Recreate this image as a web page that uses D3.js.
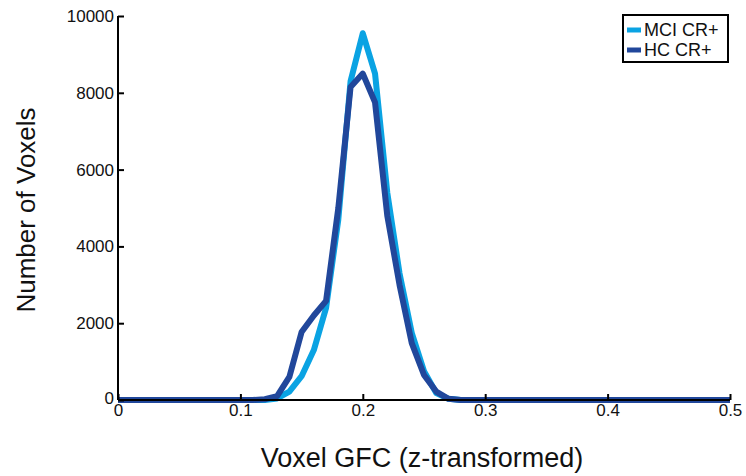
<!DOCTYPE html>
<html>
<head>
<meta charset="utf-8">
<script src="https://cdn.jsdelivr.net/npm/d3@7"></script>
<style>
html,body{margin:0;padding:0;background:#fff;}
svg text{font-family:"Liberation Sans",Arial,Helvetica,sans-serif;}
</style>
</head>
<body>
<svg id="chart" width="746" height="476"></svg>
<script>
const binCenters = [0.00,0.01,0.02,0.03,0.04,0.05,0.06,0.07,0.08,0.09,
  0.10,0.11,0.12,0.13,0.14,0.15,0.16,0.17,0.18,0.19,
  0.20,0.21,0.22,0.23,0.24,0.25,0.26,0.27,0.28,0.29,
  0.30,0.31,0.32,0.33,0.34,0.35,0.36,0.37,0.38,0.39,
  0.40,0.41,0.42,0.43,0.44,0.45,0.46,0.47,0.48,0.49,0.50];
const mciValues = [0,0,0,0,0,0,0,0,0,0,
  0,0,0,40,220,620,1300,2400,4700,8300,
  9550,8500,5400,3300,1750,750,180,30,0,0,
  0,0,0,0,0,0,0,0,0,0,
  0,0,0,0,0,0,0,0,0,0,0];
const hcValues = [0,0,0,0,0,0,0,0,0,0,
  0,0,20,100,600,1770,2200,2580,5000,8150,
  8500,7750,4800,3000,1480,650,220,30,0,0,
  0,0,0,0,0,0,0,0,0,0,
  0,0,0,0,0,0,0,0,0,0,0];
const xTicks = [0,0.1,0.2,0.3,0.4,0.5];
const yTicks = [0,2000,4000,6000,8000,10000];
const seriesNames = ["MCI CR+","HC CR+"];
const seriesColors = ["#0aa3e3","#21479b"];

const svg = d3.select("#chart");
const m = {left:118, top:16, right:730, bottom:400};
const x = d3.scaleLinear().domain([0,0.5]).range([m.left,m.right]);
const y = d3.scaleLinear().domain([0,10000]).range([m.bottom,m.top]);

// series lines
const line = d3.line().x((d,i)=>x(binCenters[i])).y(d=>y(d));
[mciValues,hcValues].forEach((vals,k)=>{
  svg.append("path").datum(vals)
    .attr("d",line)
    .attr("fill","none")
    .attr("stroke",seriesColors[k])
    .attr("stroke-width",6)
    .attr("stroke-linejoin","round")
    .attr("stroke-linecap","butt");
});

// axes
const xAxis = d3.axisBottom(x).tickValues(xTicks).tickSize(-6).tickPadding(8)
  .tickFormat(d=>d===0?"0":d3.format(".1f")(d));
const gx = svg.append("g").attr("transform",`translate(0,${m.bottom})`).call(xAxis);
gx.select(".domain").attr("stroke","#000").attr("stroke-width",2).attr("d",`M${m.left},0H${m.right}`);
gx.selectAll(".tick line").attr("stroke","#000").attr("stroke-width",2);
gx.selectAll(".tick text").attr("font-size",17).attr("fill","#111").attr("dy","0.71em").attr("y",4);

const yAxis = d3.axisLeft(y).tickValues(yTicks).tickSize(-6).tickPadding(6).tickFormat(d3.format("d"));
const gy = svg.append("g").attr("transform",`translate(${m.left},0)`).call(yAxis);
gy.select(".domain").attr("stroke","#000").attr("stroke-width",2).attr("d",`M0,${m.bottom}V${m.top}`);
gy.selectAll(".tick line").attr("stroke","#000").attr("stroke-width",2);
gy.selectAll(".tick text").attr("font-size",17).attr("fill","#111").attr("x",-4);
gy.selectAll(".tick").filter(d=>d===0).select("text").attr("dy","0.2em");

// axis labels
svg.append("text").attr("x",422).attr("y",467)
  .attr("text-anchor","middle").attr("font-size",27).attr("fill","#111")
  .text("Voxel GFC (z-transformed)");
svg.append("text").attr("transform",`translate(35,210) rotate(-90)`)
  .attr("text-anchor","middle").attr("font-size",26).attr("fill","#111")
  .text("Number of Voxels");

// legend
const lg = svg.append("g").attr("transform","translate(623,15)");
lg.append("rect").attr("x",0).attr("y",0).attr("width",105).attr("height",47)
  .attr("fill","#fff").attr("stroke","#000").attr("stroke-width",2);
seriesNames.forEach((n,i)=>{
  const yy = 15 + i*20;
  lg.append("line").attr("x1",4).attr("x2",18).attr("y1",yy).attr("y2",yy)
    .attr("stroke",seriesColors[i]).attr("stroke-width",5);
  lg.append("text").attr("x",21).attr("y",yy).attr("dy","0.36em")
    .attr("font-size",18).attr("fill","#111").text(n);
});
</script>
</body>
</html>
